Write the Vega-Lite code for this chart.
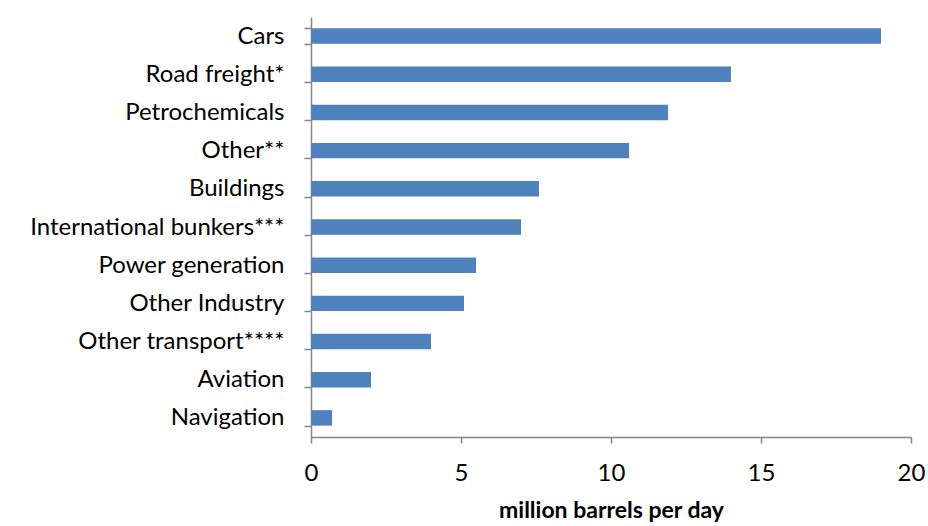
{
  "$schema": "https://vega.github.io/schema/vega-lite/v6.json",
  "autosize": "none",
  "width": 600,
  "height": 420,
  "padding": {"left": 311, "top": 17, "right": 17, "bottom": 89},
  "background": "white",
  "config": {"view": {"stroke": null}, "font": "Lato"},
  "data": {"values": [
    {"sector": "Cars", "value": 19.0},
    {"sector": "Road freight*", "value": 14.0},
    {"sector": "Petrochemicals", "value": 11.9},
    {"sector": "Other**", "value": 10.6},
    {"sector": "Buildings", "value": 7.6},
    {"sector": "International  bunkers***", "value": 7.0},
    {"sector": "Power generation", "value": 5.5},
    {"sector": "Other Industry", "value": 5.1},
    {"sector": "Other transport****", "value": 4.0},
    {"sector": "Aviation", "value": 2.0},
    {"sector": "Navigation", "value": 0.7}
  ]},
  "mark": {"type": "bar", "color": "#4F81BD"},
  "encoding": {
    "y": {
      "field": "sector", "type": "nominal", "sort": null,
      "scale": {"paddingInner": 0.595, "paddingOuter": 0.2975},
      "axis": {
        "title": null, "tickBand": "extent", "domainColor": "#868686", "domainWidth": 1.5,
        "tickColor": "#868686", "tickWidth": 1.5, "tickSize": 7, "labelPadding": 20, "labelLimit": 400,
        "labelFontSize": 24, "labelColor": "#000000", "labelFont": "Lato"
      }
    },
    "x": {
      "field": "value", "type": "quantitative",
      "scale": {"domain": [0, 20], "nice": false},
      "axis": {
        "values": [0, 5, 10, 15, 20], "grid": false, "title": "million barrels per day",
        "titleFontSize": 23, "titleFontWeight": "bold", "titleColor": "#000000", "titlePadding": 14, "titleFont": "Lato",
        "domainColor": "#868686", "domainWidth": 1.5, "tickColor": "#868686", "tickWidth": 1.5, "tickSize": 6,
        "labelPadding": 18, "labelFontSize": 24, "labelColor": "#000000", "labelFont": "Lato", "labelFlush": false
      }
    }
  }
}
